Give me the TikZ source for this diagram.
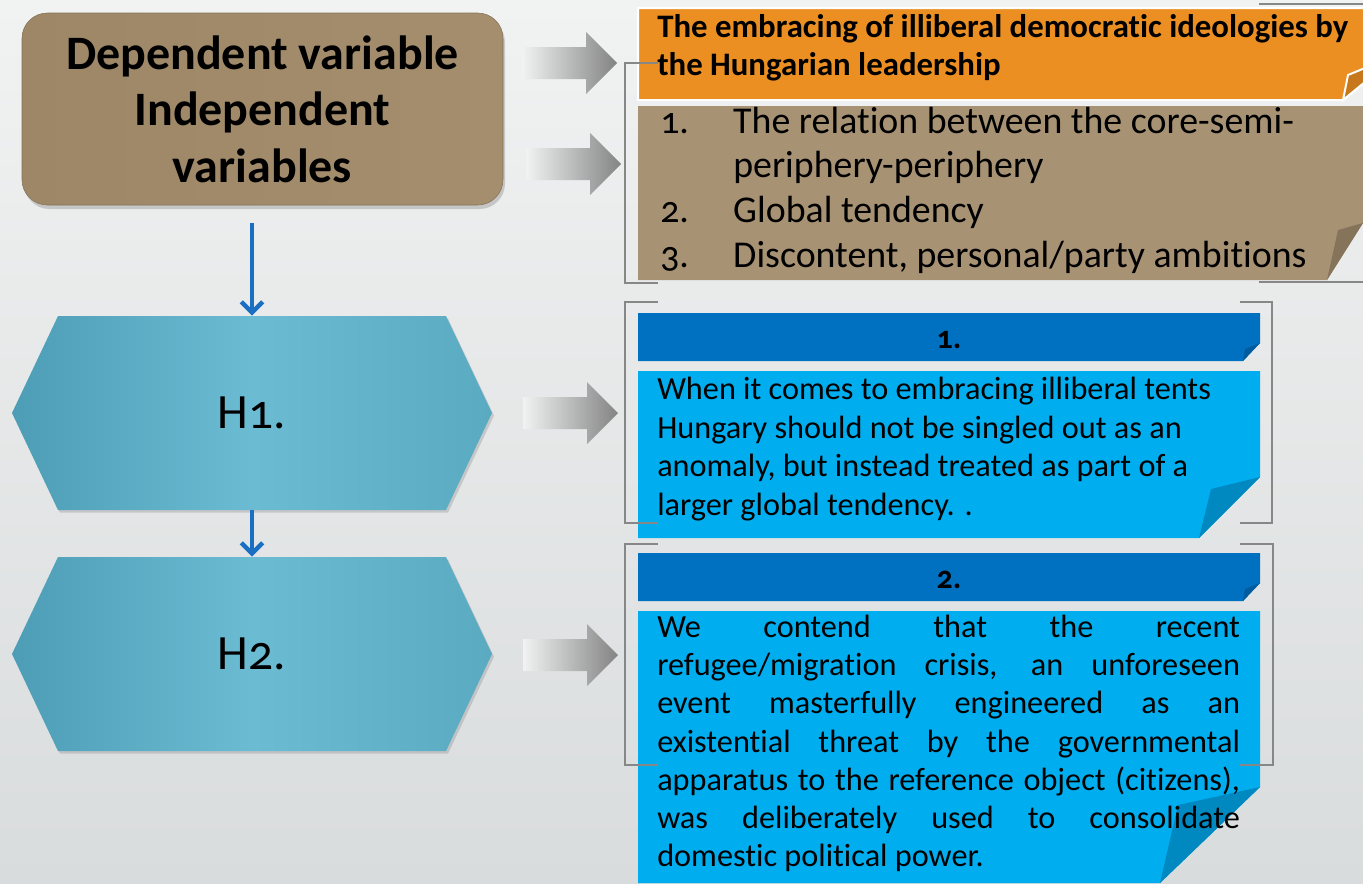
\documentclass[tikz,border=0pt]{standalone}
\usepackage{fontspec}
\setmainfont{Carlito}[Numbers=OldStyle, RawFeature={-liga;-calt;-clig}]
\usetikzlibrary{arrows.meta,shadows,calc}
\definecolor{bgtop}{HTML}{F1F2F2}
\definecolor{bgbot}{HTML}{D9DCDD}
\definecolor{brownL}{HTML}{9D8767}
\definecolor{brownM}{HTML}{B4A082}
\definecolor{brownR}{HTML}{A48E6D}
\definecolor{brownbox}{HTML}{A89274}
\definecolor{brownfold}{HTML}{85735A}
\definecolor{orangebox}{HTML}{EB8F23}
\definecolor{orangefold}{HTML}{C8781C}
\definecolor{hdrblue}{HTML}{0070C0}
\definecolor{hdrfold}{HTML}{005C9E}
\definecolor{lightblue}{HTML}{00AEEF}
\definecolor{lbfold}{HTML}{0089C0}
\definecolor{hexL}{HTML}{4E9DB6}
\definecolor{hexM}{HTML}{6BBBD3}
\definecolor{hexR}{HTML}{5AAAC2}
\definecolor{arrblue}{HTML}{1B6FC2}
\definecolor{brkgray}{HTML}{878787}
\definecolor{arrgray}{HTML}{838383}
\tikzset{
  brk/.style={draw=brkgray, line width=2.2pt},
  garrow/.pic={\shade[left color=bgtop, right color=arrgray]
     (-95,-16) -- (-31,-16) -- (-31,-31) -- (0,0) -- (-31,31) -- (-31,16) -- (-95,16) -- cycle;},
  hexshape/.style={left color=hexL, right color=hexR, middle color=hexM,
     drop shadow={opacity=0.3, shadow xshift=1.5pt, shadow yshift=-2pt}},
  hexlabel/.style={inner sep=0pt, minimum width=360pt, minimum height=145.5pt,
     font=\fontsize{37}{42}\selectfont},
  bluearr/.style={draw=arrblue, line width=3.2pt,
     -{Straight Barb[length=8pt, width=16pt, line width=3.4pt]}},
  dvbox/.style={rounded corners=19pt, minimum width=360.75pt, minimum height=144pt,
     left color=brownL, middle color=brownM, right color=brownR, draw=brownL!85!black,
     line width=0.4pt, align=center, inner sep=0pt,
     drop shadow={opacity=0.35, shadow xshift=1.5pt, shadow yshift=-3pt},
     font=\bfseries\fontsize{36}{42.4}\selectfont},
  boxtext/.style={anchor=west, align=left, inner sep=0pt},
  hdrtext/.style={inner sep=0pt, font=\bfseries\fontsize{24}{28}\selectfont}
}
\begin{document}
\begin{tikzpicture}[x=0.75pt, y=-0.75pt]
\useasboundingbox (0,0) rectangle (1363,883);
\shade[top color=bgtop, bottom color=bgbot] (0,0) rectangle (1363,883);

% left column
\node[dvbox] (dv) at (262.5,109) {Dependent variable\\Independent\\variables};
\path[hexshape] (12,413) -- (58,316) -- (446,316) -- (492,413) -- (446,510) -- (58,510) -- cycle;
\node[hexlabel] (h1) at (252,413) {H1.};
\path[hexshape] (12,654) -- (58,557) -- (446,557) -- (492,654) -- (446,751) -- (58,751) -- cycle;
\node[hexlabel] (h2) at (252,654) {H2.};
\draw[bluearr, shorten <=13pt] (dv.south -| h1.north) -- (h1.north);
\draw[bluearr] (h1.south) -- (h2.north);

% gray block arrows
\pic at (617,63) {garrow};
\pic at (621,164) {garrow};
\pic at (618,413) {garrow};
\pic at (618,655) {garrow};

% orange box
\path[fill=orangebox, draw=white, line width=1.5pt]
  (638,8) -- (1365,8) -- (1365,82) -- (1343,100) -- (638,100) -- cycle;
\path[fill=orangefold, draw=white, line width=1.5pt]
  (1343,100) -- (1348,75) -- (1365,68) -- (1365,82) -- cycle;

% brown list box
\fill[brownbox] (638,106) -- (1363,106) -- (1363,223) -- (1327,280) -- (638,280) -- cycle;
\fill[brownfold] (1363,223) -- (1338,230) -- (1327,280) -- cycle;

% header bars
\fill[hdrblue] (638,313) -- (1260,313) -- (1260,343) -- (1243,361) -- (638,361) -- cycle;
\fill[hdrfold] (1260,343) -- (1245,349) -- (1243,361) -- cycle;
\fill[hdrblue] (638,553) -- (1260,553) -- (1260,583) -- (1243,601) -- (638,601) -- cycle;
\fill[hdrfold] (1260,583) -- (1245,589) -- (1243,601) -- cycle;

% light blue boxes
\fill[lightblue] (638,371) -- (1260,371) -- (1260,477) -- (1199,538) -- (638,538) -- cycle;
\fill[lbfold] (1260,477) -- (1211,489) -- (1199,538) -- cycle;
\fill[lightblue] (638,611) -- (1260,611) -- (1260,787) -- (1160,883) -- (638,883) -- cycle;
\fill[lbfold] (1260,787) -- (1178,805) -- (1160,883) -- cycle;

% brackets
\draw[brk] (658,63) -- (625,63) -- (625,283) -- (658,283);
\draw[brk] (1259,4) -- (1363,4);
\draw[brk] (1259,282) -- (1363,282);
\draw[brk] (658,302) -- (625,302) -- (625,523) -- (658,523);
\draw[brk] (1240,302) -- (1272,302) -- (1272,523) -- (1240,523);
\draw[brk] (658,544) -- (625,544) -- (625,765) -- (658,765);
\draw[brk] (1240,544) -- (1273,544) -- (1273,765) -- (1240,765);

% texts
\node[boxtext, font=\bfseries\fontsize{24.6}{28.5}\selectfont] (dvt) at (657,48)
  {The embracing of illiberal democratic ideologies by\\the Hungarian leadership};
\node[boxtext, font=\fontsize{28.4}{33.5}\selectfont] (ivt) at (660,190)
  {\makebox[54.75pt][l]{1.}The relation between the core-semi-\\
   \hspace*{54.75pt}periphery-periphery\\
   \makebox[54.75pt][l]{2.}Global tendency\\
   \makebox[54.75pt][l]{3.}Discontent, personal/party ambitions};
\node[hdrtext] (n1) at (949,340) {1.};
\node[hdrtext] (n2) at (949,580) {2.};
\node[boxtext, font=\fontsize{24.2}{28.9}\selectfont] (h1t) at (657,449)
  {When it comes to embracing illiberal tents\\Hungary should not be singled out as an\\anomaly, but instead treated as part of a\\larger global tendency. .};
\node[anchor=west, inner sep=0pt, text width=437pt, align=justify,
      font=\fontsize{24.2}{28.65}\selectfont] (h2t) at (657,743.5)
  {We contend that the recent\linebreak refugee/migration crisis, an unforeseen\linebreak event masterfully engineered as an\linebreak existential threat by the governmental\linebreak apparatus to the reference object (citizens),\linebreak was deliberately used to consolidate\linebreak domestic political power.};
\end{tikzpicture}
\end{document}
